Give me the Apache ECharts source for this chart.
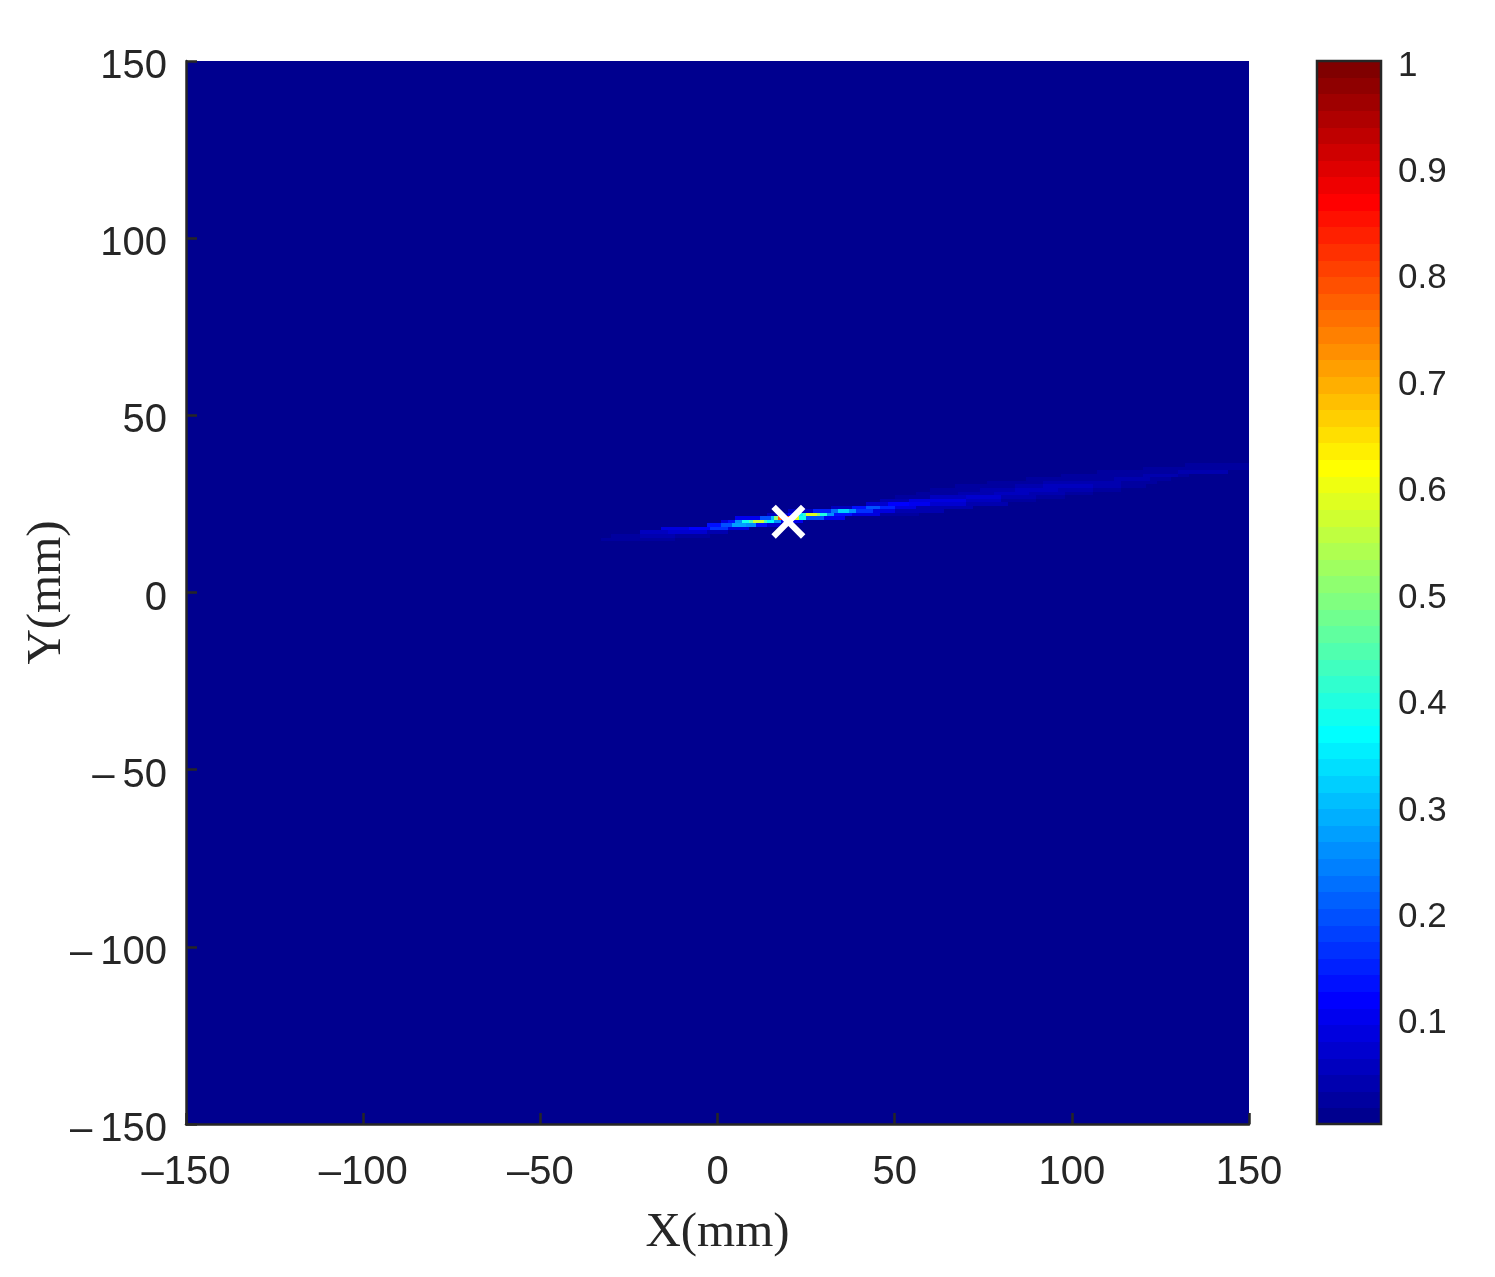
<!DOCTYPE html>
<html>
<head>
<meta charset="utf-8">
<style>
  html, body { margin: 0; padding: 0; background: #fff; }
  #chart { width: 1495px; height: 1277px; }
</style>
<script src="https://cdn.jsdelivr.net/npm/echarts@6/dist/echarts.min.js"></script>
</head>
<body>
<div id="chart"></div>
<script>
const xTicks = [-150, -100, -50, 0, 50, 100, 150]
const yTicks = [-150, -100, -50, 0, 50, 100, 150]
const barTicks = [0.1, 0.2, 0.3, 0.4, 0.5, 0.6, 0.7, 0.8, 0.9, 1]
const target = [[20, 20]]

// row y (mm), then runs of [x from, x to, value]
const rowY = [14, 15, 16, 17, 18, 19, 20, 21, 22, 23, 24, 25, 26, 27, 28, 29, 30, 31, 32, 33, 34, 35, 36]
const rowRuns = [
  [[-30, -22, 0.015]],
  [[-33, -22, 0.02], [-22, -12, 0.025]],
  [[-30, -22, 0.025], [-22, -12, 0.04], [-12, -2, 0.03]],
  [[-22, -14, 0.05], [-14, -3, 0.07], [-3, 3, 0.04]],
  [[-16, -8, 0.08], [-8, -2, 0.12], [-2, 3, 0.16], [3, 9, 0.09]],
  [[-3, 1, 0.14], [1, 4, 0.2], [4, 8, 0.27], [8, 11, 0.25], [11, 14, 0.14], [14, 18, 0.07]],
  [[1, 3, 0.08], [3, 5, 0.14], [5, 7, 0.26], [7, 9, 0.38], [9, 10, 0.45], [10, 13, 0.57], [13, 14, 0.45], [14, 16, 0.36], [16, 18, 0.25], [18, 24, 0.1]],
  [[5, 12, 0.1], [12, 15, 0.2], [15, 16, 0.3], [16, 17, 0.5], [17, 18, 0.78], [18, 20, 0.85], [20, 21, 0.75], [21, 23, 0.58], [23, 25, 0.38], [25, 30, 0.2], [30, 36, 0.1]],
  [[14, 20, 0.05], [20, 22, 0.12], [22, 24, 0.35], [24, 25, 0.42], [25, 28, 0.58], [28, 29, 0.5], [29, 31, 0.4], [31, 33, 0.25], [33, 38, 0.14], [38, 46, 0.08], [46, 57, 0.03]],
  [[20, 27, 0.06], [27, 32, 0.15], [32, 34, 0.22], [34, 37, 0.32], [37, 39, 0.25], [39, 44, 0.16], [44, 50, 0.09], [50, 64, 0.04]],
  [[32, 38, 0.06], [38, 42, 0.14], [42, 46, 0.2], [46, 50, 0.15], [50, 56, 0.09], [56, 72, 0.04]],
  [[42, 48, 0.07], [48, 54, 0.12], [54, 60, 0.1], [60, 70, 0.065], [70, 82, 0.035]],
  [[46, 54, 0.04], [54, 62, 0.08], [62, 70, 0.08], [70, 80, 0.055], [80, 90, 0.03]],
  [[50, 60, 0.03], [60, 70, 0.055], [70, 80, 0.07], [80, 90, 0.045], [90, 98, 0.025]],
  [[56, 68, 0.025], [68, 78, 0.045], [78, 88, 0.06], [88, 98, 0.04], [98, 106, 0.02]],
  [[60, 74, 0.02], [74, 84, 0.04], [84, 96, 0.055], [96, 106, 0.04], [106, 114, 0.02]],
  [[67, 84, 0.02], [84, 92, 0.04], [92, 106, 0.05], [106, 114, 0.035], [114, 121, 0.018]],
  [[76, 92, 0.02], [92, 104, 0.035], [104, 114, 0.045], [114, 120, 0.03], [120, 124, 0.018]],
  [[87, 102, 0.018], [102, 112, 0.03], [112, 122, 0.04], [122, 128, 0.025]],
  [[97, 110, 0.018], [110, 120, 0.03], [120, 130, 0.035], [130, 133, 0.02]],
  [[107, 120, 0.018], [120, 130, 0.03], [130, 144, 0.035]],
  [[120, 132, 0.018], [132, 150, 0.03]],
  [[132, 150, 0.018]]
]

const LEVELS = 64
const INK = '#262626'
const LABEL_FONT = 'Liberation Sans'
const TITLE_FONT = 'Liberation Serif'

// matlab jet(64)
function jetPart(k) {
  if (k < 1 || k > 47) return 0
  if (k <= 16) return k / 16
  if (k <= 31) return 1
  return (48 - k) / 16
}
function jetColor(value) {
  const t = Math.min(LEVELS, Math.floor(value * LEVELS) + 1)
  const r = Math.round(jetPart(t - 24) * 255)
  const g = Math.round(jetPart(t - 8) * 255)
  const b = Math.round(jetPart(t + 8) * 255)
  return `rgb(${r},${g},${b})`
}

// the reference minus is longer than the font's, en dash is the closest glyph
const minusLabel = val => String(val).replace('-', '\u2013')
const spacedMinusLabel = val => String(val).replace('-', '\u2013\u2009')

const cellData = []
rowY.forEach((y, i) => {
  rowRuns[i].forEach(run => cellData.push([run[0], run[1], y, run[2]]))
})

const barData = []
for (let i = 0; i < LEVELS; i++) {
  barData.push([i / LEVELS, (i + 1) / LEVELS])
}

function renderCell(params, api) {
  const a = api.coord([api.value(0), api.value(2) + 0.5])
  const b = api.coord([api.value(1), api.value(2) - 0.5])
  const x = Math.round(a[0])
  const y = Math.round(a[1])
  return {
    type: 'rect',
    shape: { x, y, width: Math.round(b[0]) - x, height: Math.round(b[1]) - y },
    style: { fill: jetColor(api.value(3)) }
  }
}

function renderBand(params, api) {
  const a = api.coord([0, api.value(1)])
  const b = api.coord([1, api.value(0)])
  const y = Math.round(a[1])
  return {
    type: 'rect',
    shape: { x: a[0], y, width: b[0] - a[0], height: Math.round(b[1]) - y },
    style: { fill: jetColor((api.value(0) + api.value(1)) / 2) }
  }
}

const labelStyle = { color: INK, fontFamily: LABEL_FONT, fontSize: 40 }
const nameStyle = { color: INK, fontFamily: TITLE_FONT, fontSize: 49 }
const chart = echarts.init(document.getElementById('chart'))
chart.setOption({
  animation: false,
  backgroundColor: '#fff',
  grid: [
    { left: 186, top: 61, width: 1063, height: 1063, outerBoundsMode: 'none', show: true, backgroundColor: jetColor(0), borderWidth: 0 },
    { left: 1317, top: 61, width: 64, height: 1063, outerBoundsMode: 'none', show: true, backgroundColor: 'transparent', borderColor: INK, borderWidth: 2.5, z: 5 }
  ],
  xAxis: [
    {
      type: 'value', gridIndex: 0, min: -150, max: 150, interval: 50,
      name: 'X(mm)', nameLocation: 'middle', nameGap: 85, nameMoveOverlap: false, nameTextStyle: nameStyle,
      splitLine: { show: false },
      axisLine: { onZero: false, lineStyle: { color: INK, width: 2.5 } },
      axisTick: { inside: true, length: 11, customValues: xTicks, lineStyle: { color: INK, width: 2.5 } },
      axisLabel: { ...labelStyle, margin: 29, showMinLabel: true, showMaxLabel: true, formatter: minusLabel, customValues: xTicks }
    },
    { type: 'value', gridIndex: 1, min: 0, max: 1, show: false }
  ],
  yAxis: [
    {
      type: 'value', gridIndex: 0, min: -150, max: 150, interval: 50,
      name: 'Y(mm)', nameLocation: 'middle', nameGap: 114, nameMoveOverlap: false, nameTextStyle: nameStyle,
      splitLine: { show: false },
      axisLine: { onZero: false, lineStyle: { color: INK, width: 2.5 } },
      axisTick: { inside: true, length: 11, customValues: yTicks, lineStyle: { color: INK, width: 2.5 } },
      axisLabel: { ...labelStyle, margin: 19, verticalAlign: 'top', lineHeight: 12, showMinLabel: true, showMaxLabel: true, formatter: spacedMinusLabel, customValues: yTicks }
    },
    {
      type: 'value', gridIndex: 1, position: 'right', min: 0.001, max: 1,
      splitLine: { show: false },
      axisLine: { show: false, onZero: false },
      axisTick: { inside: true, length: 11, customValues: barTicks.slice(0, -1), lineStyle: { color: INK, width: 2.5 } },
      axisLabel: { ...labelStyle, fontSize: 35, margin: 17, verticalAlign: 'top', lineHeight: 10, showMinLabel: true, showMaxLabel: true, customValues: barTicks, formatter: val => String(+val.toFixed(1)) }
    }
  ],
  series: [
    {
      type: 'custom', xAxisIndex: 0, yAxisIndex: 0, clip: true,
      data: cellData, renderItem: renderCell, silent: true,
      encode: { x: [0, 1], y: 2 }
    },
    {
      type: 'scatter', xAxisIndex: 0, yAxisIndex: 0, data: target, z: 4, silent: true,
      symbol: 'path://M13 0L50 37L87 0L100 13L63 50L100 87L87 100L50 63L13 100L0 87L37 50L0 13Z',
      symbolSize: 34, itemStyle: { color: '#fff', opacity: 1 }
    },
    {
      type: 'custom', xAxisIndex: 1, yAxisIndex: 1, clip: true,
      data: barData, renderItem: renderBand, silent: true,
      encode: { y: [0, 1] }
    }
  ]
})
</script>
</body>
</html>
